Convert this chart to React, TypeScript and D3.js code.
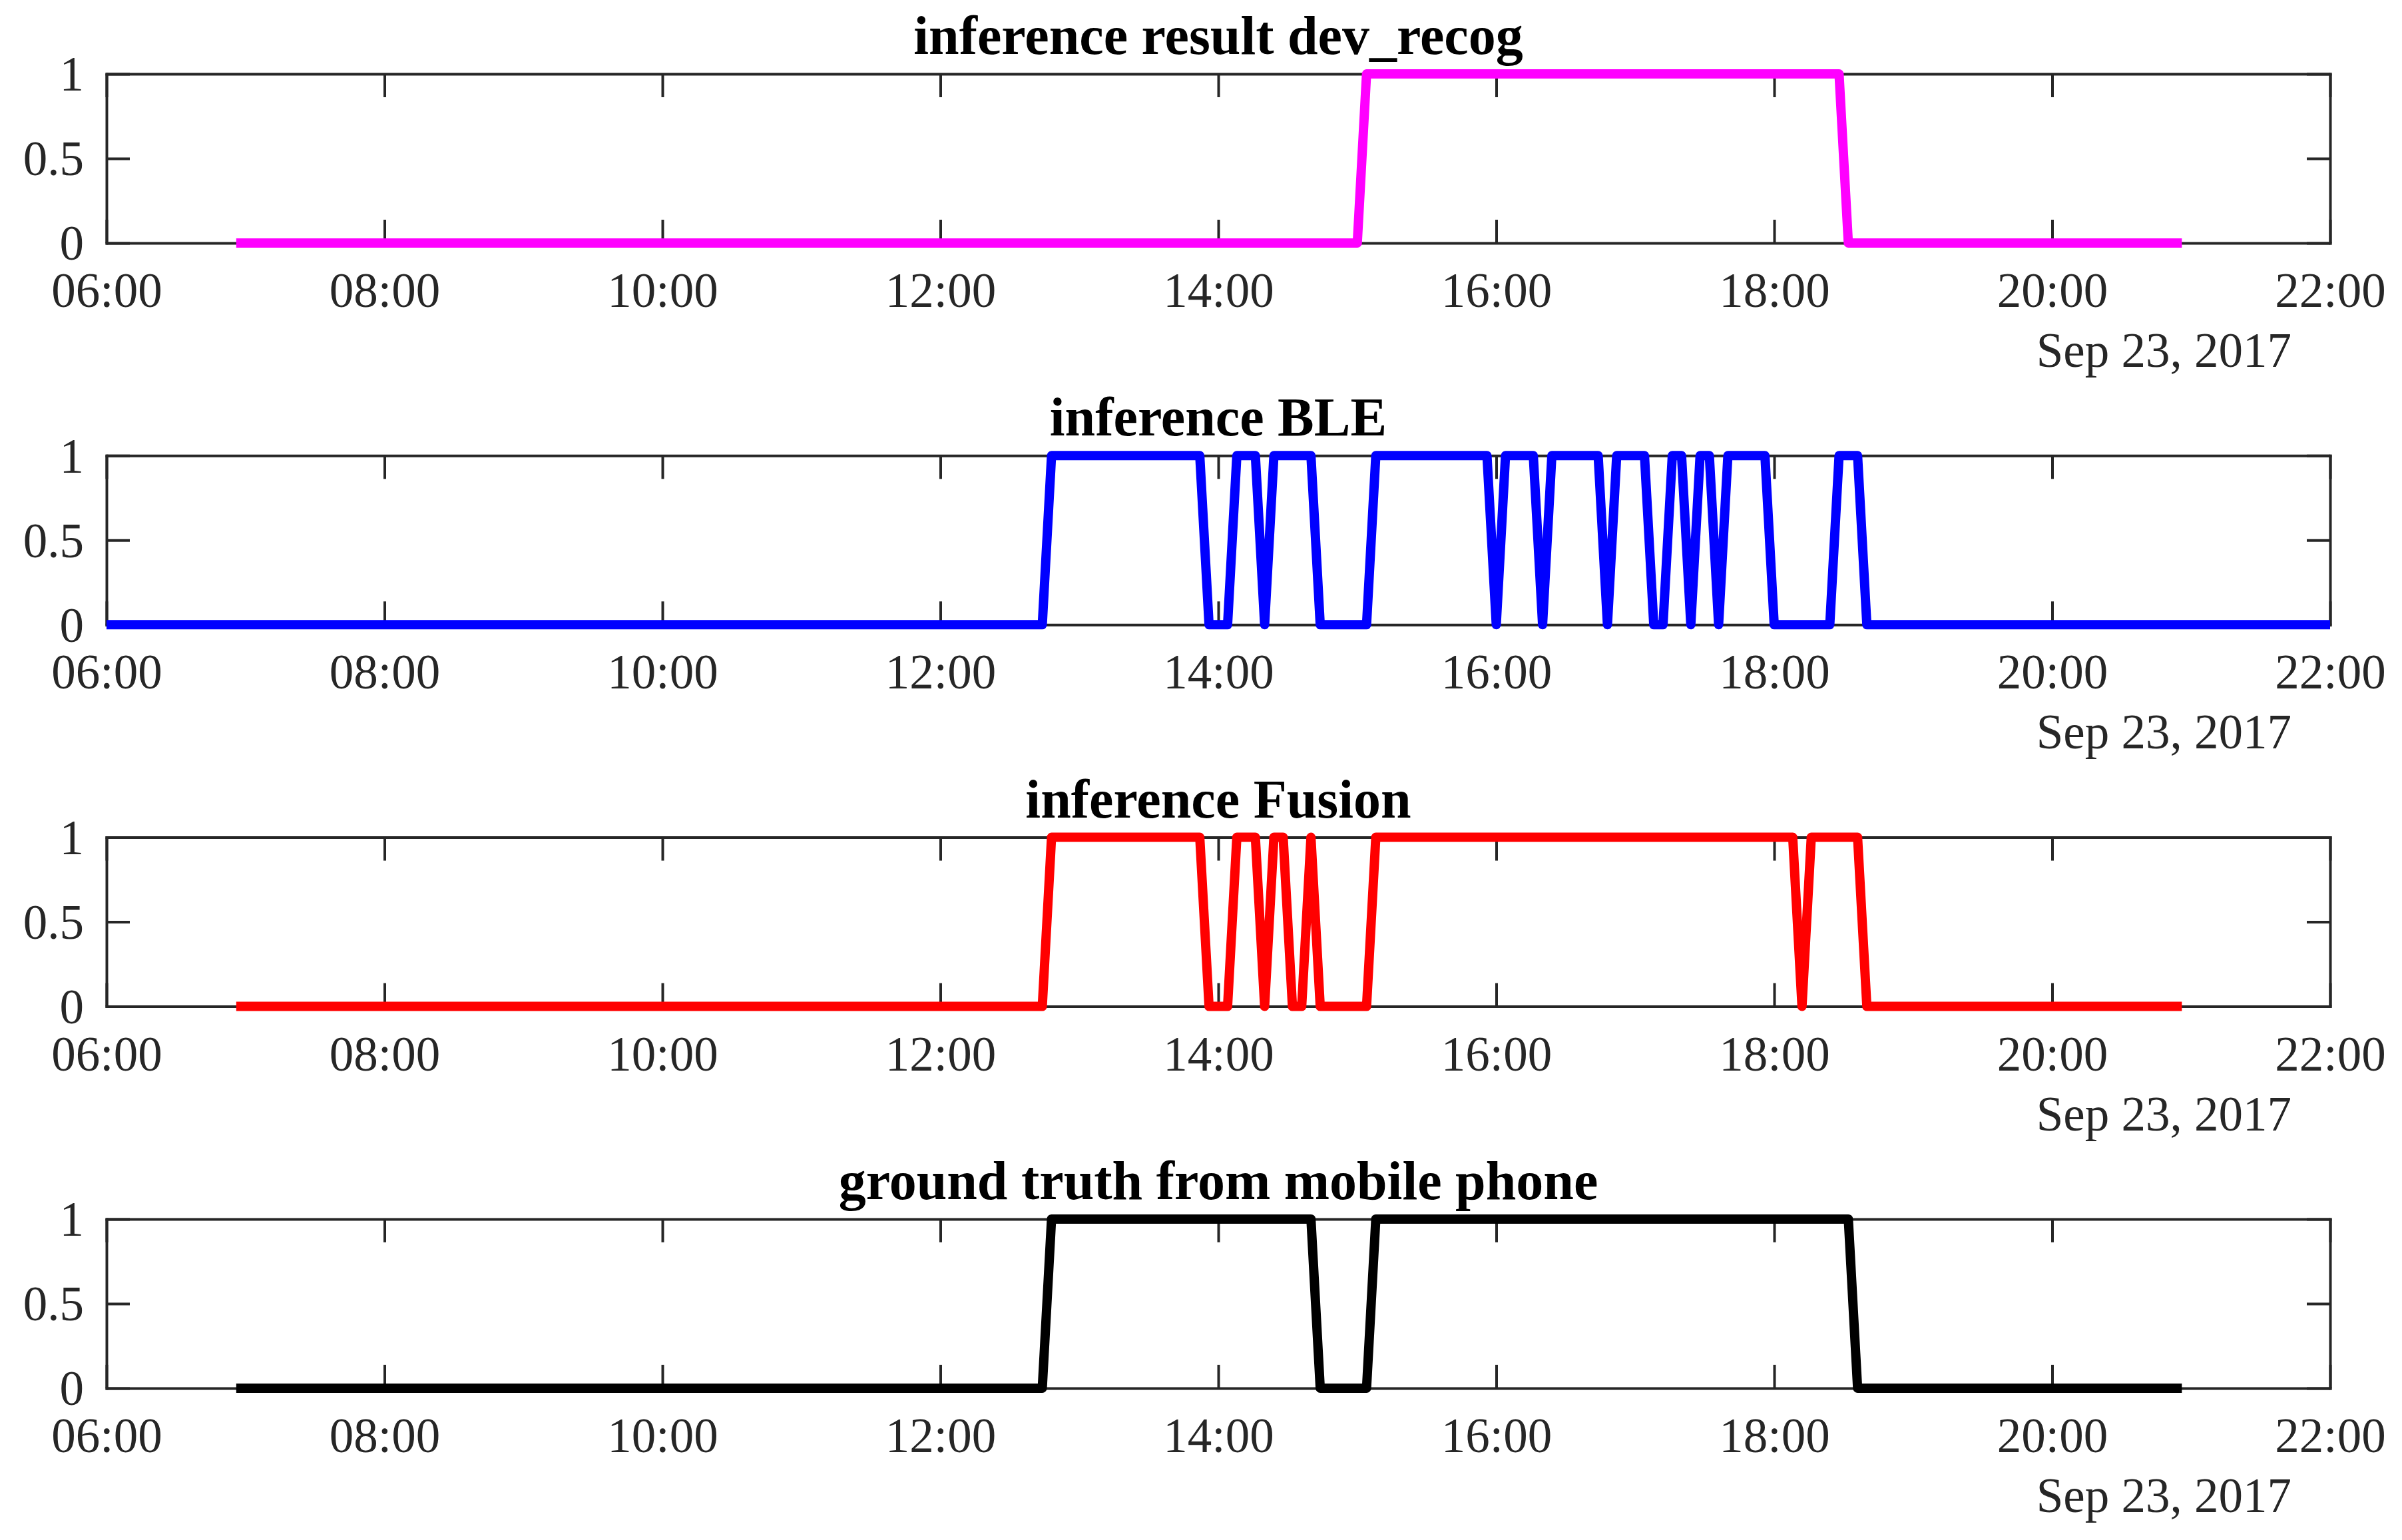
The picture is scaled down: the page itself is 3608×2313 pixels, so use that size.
import React, { useRef, useEffect } from 'react';
import * as d3 from 'd3';

// time/value vertices (4-minute sampling)
const devRecogTimes = ['06:56', '15:00', '15:04', '18:28', '18:32', '20:56'];
const devRecogValues = [0, 0, 1, 1, 0, 0];

const bleTimes = [
  '06:00', '12:44', '12:48', '13:52', '13:56', '14:04', '14:08', '14:16', '14:20', '14:24',
  '14:40', '14:44', '15:04', '15:08', '15:56', '16:00', '16:04', '16:16', '16:20', '16:24',
  '16:44', '16:48', '16:52', '17:04', '17:08', '17:12', '17:16', '17:20', '17:24', '17:28',
  '17:32', '17:36', '17:40', '17:56', '18:00', '18:24', '18:28', '18:36', '18:40', '22:00',
];
const bleValues = [
  0, 0, 1, 1, 0, 0, 1, 1, 0, 1,
  1, 0, 0, 1, 1, 0, 1, 1, 0, 1,
  1, 0, 1, 1, 0, 0, 1, 1, 0, 1,
  1, 0, 1, 1, 0, 0, 1, 1, 0, 0,
];

const fusionTimes = [
  '06:56', '12:44', '12:48', '13:52', '13:56', '14:04', '14:08', '14:16', '14:20', '14:24',
  '14:28', '14:32', '14:36', '14:40', '14:44', '15:04', '15:08', '18:08', '18:12', '18:16',
  '18:36', '18:40', '20:56',
];
const fusionValues = [
  0, 0, 1, 1, 0, 0, 1, 1, 0, 1,
  1, 0, 0, 1, 0, 0, 1, 1, 0, 1,
  1, 0, 0,
];

const truthTimes = ['06:56', '12:44', '12:48', '14:40', '14:44', '15:04', '15:08', '18:32', '18:36', '20:56'];
const truthValues = [0, 0, 1, 1, 0, 0, 1, 1, 0, 0];

const panelTitles = [
  'inference result dev_recog',
  'inference BLE',
  'inference Fusion',
  'ground truth from mobile phone',
];
const panelColors = ['#ff00ff', '#0000ff', '#ff0000', '#000000'];
const yTickValues = [0, 0.5, 1];
const dateLabel = 'Sep 23, 2017';

const toDate = (hhmm: string) => {
  const [h, m] = hhmm.split(':').map(Number);
  return new Date(2017, 8, 23, h, m);
};

const series = [
  { times: devRecogTimes, values: devRecogValues },
  { times: bleTimes, values: bleValues },
  { times: fusionTimes, values: fusionValues },
  { times: truthTimes, values: truthValues },
];

const WIDTH = 3608;
const HEIGHT = 2313;
const FONT = '"Liberation Serif", "Times New Roman", serif';
const AXIS_COLOR = '#262626';

const App: React.FC = () => {
  const svgRef = useRef<SVGSVGElement>(null);

  useEffect(() => {
    if (!svgRef.current) return;
    const svg = d3.select(svgRef.current);
    svg.selectAll('*').remove();

    const left = 160;
    const right = 3500;
    const panelTop = 111;
    const panelStep = 573.3;
    const panelHeight = 254;
    const tickLen = 35;
    const tickFont = 73;

    const x = d3.scaleTime()
      .domain([toDate('06:00'), toDate('22:00')])
      .range([0, right - left]);

    series.forEach((s, i) => {
      const top = panelTop + i * panelStep;
      const g = svg.append('g').attr('transform', `translate(${left},${top})`);

      const y = d3.scaleLinear().domain([0, 1]).range([panelHeight, 0]);

      const xTicks = d3.timeHour.every(2)!;
      const fmt = d3.timeFormat('%H:%M');

      // bottom axis with labels
      const xb = g.append('g')
        .call(d3.axisBottom(x).ticks(xTicks).tickFormat(d => fmt(d as Date)).tickSizeInner(-tickLen).tickSizeOuter(0));
      xb.attr('transform', `translate(0,${panelHeight})`);
      xb.selectAll('.tick text')
        .attr('y', 96)
        .attr('dy', null)
        .style('font-size', `${tickFont}px`);

      // top axis, ticks only
      g.append('g')
        .call(d3.axisTop(x).ticks(xTicks).tickFormat(() => '').tickSizeInner(-tickLen).tickSizeOuter(0));

      // left axis with labels
      const yl = g.append('g')
        .call(d3.axisLeft(y).tickValues(yTickValues).tickFormat(d3.format('~g')).tickSizeInner(-tickLen).tickSizeOuter(0));
      yl.selectAll('.tick text')
        .attr('x', -34)
        .attr('dy', null)
        .attr('y', tickFont * 0.34)
        .style('font-size', `${tickFont}px`);

      // right axis, ticks only
      g.append('g')
        .attr('transform', `translate(${right - left},0)`)
        .call(d3.axisRight(y).tickValues(yTickValues).tickFormat(() => '').tickSizeInner(-tickLen).tickSizeOuter(0));

      g.selectAll('.domain')
        .attr('stroke', AXIS_COLOR)
        .attr('stroke-width', 4)
        .attr('stroke-linecap', 'square');
      g.selectAll('.tick line')
        .attr('stroke', AXIS_COLOR)
        .attr('stroke-width', 4);
      g.selectAll('.tick text')
        .attr('fill', AXIS_COLOR)
        .style('font-family', FONT);

      // date label under the axis
      g.append('text')
        .attr('x', 3442 - left)
        .attr('y', panelHeight + 186)
        .attr('text-anchor', 'end')
        .attr('fill', AXIS_COLOR)
        .style('font-family', FONT)
        .style('font-size', `${tickFont}px`)
        .text(dateLabel);

      // title
      g.append('text')
        .attr('x', (right - left) / 2)
        .attr('y', -30)
        .attr('text-anchor', 'middle')
        .attr('fill', '#000')
        .style('font-family', FONT)
        .style('font-weight', 'bold')
        .style('font-size', '82px')
        .text(panelTitles[i]);

      // data line
      const pts = s.times.map((t, k) => [toDate(t), s.values[k]] as [Date, number]);
      const line = d3.line<[Date, number]>()
        .x(d => x(d[0]))
        .y(d => y(d[1]));
      g.append('path')
        .datum(pts)
        .attr('d', line)
        .attr('fill', 'none')
        .attr('stroke', panelColors[i])
        .attr('stroke-width', 14)
        .attr('stroke-linejoin', 'round')
        .attr('stroke-linecap', 'butt');
    });
  }, []);

  return (
    <svg
      ref={svgRef}
      width={WIDTH}
      height={HEIGHT}
      style={{ position: 'absolute', left: 0, top: 0, background: '#fff' }}
    />
  );
};

export default App;
